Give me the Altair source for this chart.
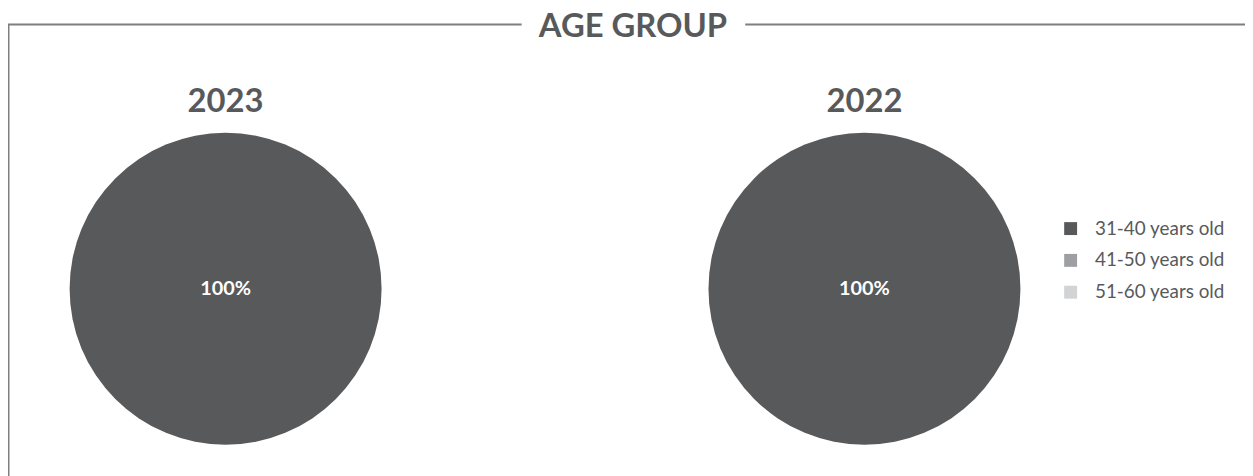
import altair as alt
import pandas as pd

years = ["2023", "2022"]
age_groups = ["31-40 years old", "41-50 years old", "51-60 years old"]
values_2023 = [100, 0, 0]
values_2022 = [100, 0, 0]
title_text = "AGE GROUP"
colors = ["#58595b", "#9d9fa2", "#d1d3d4"]

rows = []
for yr, vals in zip(years, [values_2023, values_2022]):
    for g, v in zip(age_groups, vals):
        rows.append({"year": yr, "group": g, "value": v, "order": age_groups.index(g)})
df = pd.DataFrame(rows)
labels_df = df[df["value"] > 0].copy()
labels_df["label"] = labels_df["value"].astype(str) + "%"
years_df = pd.DataFrame({"year": years})

W, H = 1237, 468
xscale = alt.Scale(type="point", domain=years, range=[219, 862], padding=0)
FONT = "Lato"
GREY = "#58595b"

arc_layers = []
for i, yr in enumerate(years):
    arc_layers.append(
        alt.Chart(df).transform_filter(alt.datum.year == yr).mark_arc(radius=157, stroke=None).encode(
            x=alt.X("year:N", scale=xscale, axis=None),
            y=alt.value(281),
            theta=alt.Theta("value:Q", stack=True),
            order=alt.Order("order:Q"),
            color=alt.Color(
                "group:N",
                scale=alt.Scale(domain=age_groups, range=colors),
                legend=alt.Legend(
                    orient="none", legendX=1060, legendY=211, title=None,
                    symbolType="square", symbolSize=169, symbolStrokeWidth=0,
                    labelFont=FONT, labelFontSize=19, labelColor=GREY,
                    rowPadding=12, labelOffset=15,
                ) if i == 0 else None,
            ),
        )
    )

pct = alt.Chart(labels_df).mark_text(font=FONT, fontSize=20, fontWeight="bold", color="white").encode(
    x=alt.X("year:N", scale=xscale, axis=None),
    y=alt.value(281),
    text="label:N",
)

year_titles = alt.Chart(years_df).mark_text(font=FONT, fontSize=33, fontWeight="bold", color=GREY).encode(
    x=alt.X("year:N", scale=xscale, axis=None),
    y=alt.value(93),
    text="year:N",
)

main_title = alt.Chart(pd.DataFrame({"t": [title_text]})).mark_text(
    font=FONT, fontSize=33, fontWeight="bold", color=GREY
).encode(x=alt.value(629), y=alt.value(18), text="t:N")

frame_color = "#7f7f7f"
top_left = alt.Chart(pd.DataFrame({"a": [0]})).mark_rule(color=frame_color, strokeWidth=2).encode(
    x=alt.value(0), x2=alt.value(517), y=alt.value(15)
)
top_right = alt.Chart(pd.DataFrame({"a": [0]})).mark_rule(color=frame_color, strokeWidth=2).encode(
    x=alt.value(742), x2=alt.value(1245), y=alt.value(15)
)
left_line = alt.Chart(pd.DataFrame({"a": [0]})).mark_rule(color=frame_color, strokeWidth=2).encode(
    x=alt.value(0.5), y=alt.value(15), y2=alt.value(470)
)

chart = alt.layer(
    top_left, top_right, left_line, *arc_layers, pct, year_titles, main_title
).properties(
    width=W, height=H,
    autosize=alt.AutoSizeParams(type="none"),
    padding={"left": 0, "top": 0, "right": 8, "bottom": 0},
).configure_view(stroke=None)

chart.save("out.html", embed_options={"renderer": "svg", "actions": False})
